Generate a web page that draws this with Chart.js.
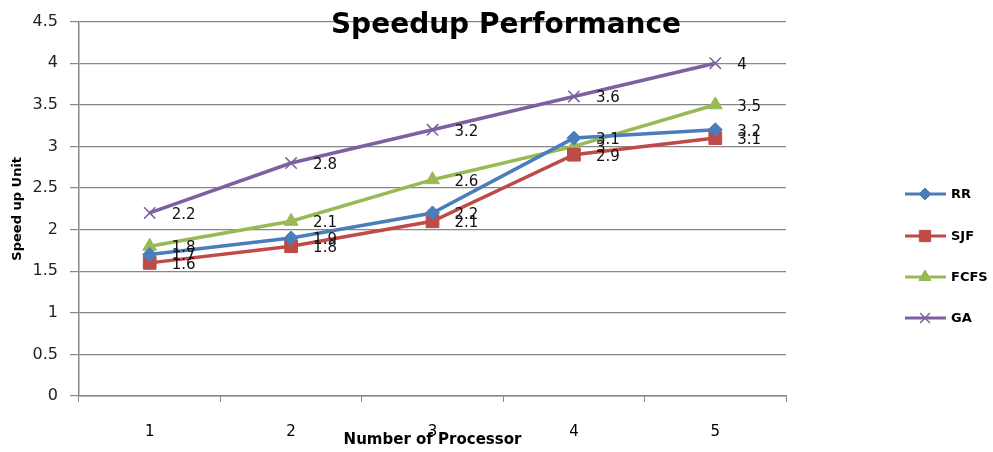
<!DOCTYPE html>
<html>
<head>
<meta charset="utf-8">
<script src="https://cdn.jsdelivr.net/npm/chart.js@4"></script>
<style>
  html, body { margin: 0; padding: 0; background: #fff; }
  #wrap { width: 993px; height: 452px; position: relative; }
</style>
</head>
<body>
<div id="wrap"><canvas id="speedup"></canvas></div>
<script>
const processors = ['1', '2', '3', '4', '5'];
const rr = [1.7, 1.9, 2.2, 3.1, 3.2];
const sjf = [1.6, 1.8, 2.1, 2.9, 3.1];
const fcfs = [1.8, 2.1, 2.6, 3.0, 3.5];
const ga = [2.2, 2.8, 3.2, 3.6, 4.0];

const FONT = '"DejaVu Sans", "Liberation Sans", sans-serif';

// value labels to the right of each point
const pointLabels = {
  id: 'pointLabels',
  afterDatasetsDraw(chart) {
    const ctx = chart.ctx;
    ctx.save();
    ctx.font = '15px ' + FONT;
    ctx.fillStyle = '#111';
    ctx.textAlign = 'left';
    ctx.textBaseline = 'middle';
    chart.data.datasets.forEach((ds, i) => {
      chart.getDatasetMeta(i).data.forEach((pt, j) => {
        ctx.fillText(String(ds.data[j]), pt.x + 22, pt.y + 2);
      });
    });
    ctx.restore();
  }
};

// title drawn over the plot, plus an excel-style legend
const extras = {
  id: 'extras',
  afterDraw(chart) {
    const ctx = chart.ctx;
    ctx.save();
    ctx.font = 'bold 28px ' + FONT;
    ctx.fillStyle = '#000';
    ctx.textAlign = 'center';
    ctx.textBaseline = 'alphabetic';
    ctx.fillText('Speedup Performance', 506, 33);

    const ys = [194, 236, 277, 318];
    chart.data.datasets.forEach((ds, i) => {
      const y = ys[i];
      ctx.strokeStyle = ds.borderColor;
      ctx.fillStyle = ds.borderColor;
      ctx.lineWidth = 3;
      ctx.beginPath();
      ctx.moveTo(905, y);
      ctx.lineTo(946, y);
      ctx.stroke();
      ctx.lineWidth = ds.pointBorderWidth || 1;
      Chart.helpers.drawPoint(ctx, {
        pointStyle: ds.pointStyle,
        radius: ds.pointRadius - 1,
        borderWidth: ds.pointBorderWidth || 1
      }, 925, y);
      ctx.fillStyle = '#000';
      ctx.font = 'bold 13px ' + FONT;
      ctx.textAlign = 'left';
      ctx.textBaseline = 'middle';
      ctx.fillText(ds.label, 951, y + 1);
    });
    ctx.restore();
  }
};

function series(label, data, color, style, radius, extra) {
  return Object.assign({
    label: label,
    data: data,
    borderColor: color,
    backgroundColor: color,
    pointBackgroundColor: color,
    pointBorderColor: color,
    borderWidth: 3.5,
    pointStyle: style,
    pointRadius: radius,
    pointHoverRadius: radius,
    pointBorderWidth: 1,
    tension: 0
  }, extra || {});
}

new Chart(document.getElementById('speedup').getContext('2d'), {
  type: 'line',
  data: {
    labels: processors,
    datasets: [
      series('RR', rr, '#4a7ebb', 'rectRot', 7),
      series('SJF', sjf, '#be4b48', 'rect', 9),
      series('FCFS', fcfs, '#98b954', 'triangle', 8),
      series('GA', ga, '#7d60a0', 'crossRot', 8, { pointBorderWidth: 1.5 })
    ]
  },
  options: {
    responsive: true,
    maintainAspectRatio: false,
    animation: false,
    layout: { padding: { top: 20, right: 207, bottom: 0, left: 0 } },
    plugins: {
      legend: { display: false },
      title: { display: false },
      tooltip: { enabled: false }
    },
    scales: {
      x: {
        offset: true,
        afterFit: (s) => { s.height = 56; },
        grid: { offset: true, drawOnChartArea: false, tickLength: 6, color: '#878787' },
        border: { color: '#878787', width: 1.5 },
        ticks: { padding: 21, color: '#000', font: { family: FONT, size: 15 } },
        title: {
          display: true,
          text: 'Number of Processor',
          color: '#000',
          font: { family: FONT, size: 15, weight: 'bold' },
          padding: { top: 0, bottom: 3 }
        }
      },
      y: {
        min: 0,
        max: 4.5,
        afterFit: (s) => { s.width = 79; },
        grid: { color: '#878787', lineWidth: 1.2, tickLength: 9 },
        border: { color: '#878787', width: 1.5 },
        ticks: {
          stepSize: 0.5,
          padding: 12,
          color: '#1f1f1f',
          font: { family: FONT, size: 16 },
          callback: (v) => String(v)
        },
        title: {
          display: true,
          text: 'Speed up Unit',
          color: '#000',
          font: { family: FONT, size: 13, weight: 'bold' },
          padding: { top: 10, bottom: 0 }
        }
      }
    }
  },
  plugins: [pointLabels, extras]
});
</script>
</body>
</html>
